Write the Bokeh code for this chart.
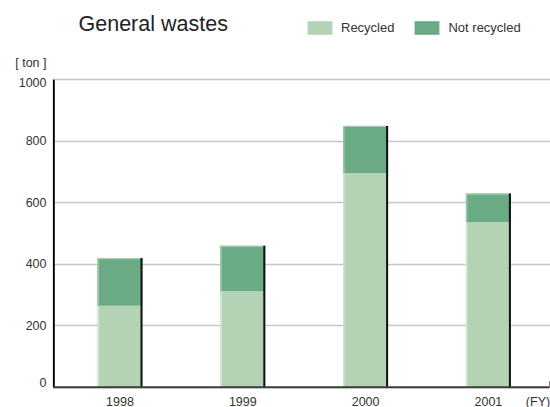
from bokeh.plotting import figure
from bokeh.models import Range1d, FixedTicker, Legend, LegendItem, ColumnDataSource
from bokeh.core.properties import value
from bokeh.embed import file_html
from bokeh.resources import INLINE

# Data
years = ["1998", "1999", "2000", "2001"]
recycled = [265, 312, 697, 537]
not_recycled = [155, 148, 153, 93]
y_ticks = [0, 200, 400, 600, 800, 1000]
y_tick_labels = ["0", "200", "400", "600", "800", "1000"]
unit_label = "[ ton ]"
fy_label = "(FY)"
title_text = "General wastes"

FONT = "Liberation Sans"
W, H = 550, 407
LEFT = 52                      # left border holding the y tick labels
X_PX_PER_UNIT = 122.8          # horizontal pixels per category step
FIRST_CENTER_PX = 119.5        # canvas x of the first category
Y_PX_PER_UNIT = 0.3074         # vertical pixels per ton
ZERO_PX = 386.7                # canvas y of the zero line

def X(px):
    return (px - FIRST_CENTER_PX) / X_PX_PER_UNIT

def Y(py):
    return (ZERO_PX - py) / Y_PX_PER_UNIT

def dx(px):
    return px / X_PX_PER_UNIT

def dy(px):
    return px / Y_PX_PER_UNIT

x_start, x_end = X(LEFT), X(W)
y_start, y_end = Y(H), Y(0)

p = figure(width=W, height=H, output_backend="svg", toolbar_location=None,
           x_range=Range1d(x_start, x_end), y_range=Range1d(y_start, y_end),
           x_axis_location=None, min_border_left=LEFT, min_border_right=0,
           min_border_top=0, min_border_bottom=0, outline_line_color=None,
           background_fill_color="white", border_fill_color="white")
p.xgrid.visible = False

# horizontal grid
p.ygrid.ticker = FixedTicker(ticks=y_ticks)
p.ygrid.grid_line_color = "#c6c6c6"
p.ygrid.grid_line_width = 1.5

# y axis: tick labels only (axis line drawn separately)
label_pos = list(y_ticks)
label_pos[0] = y_ticks[0] + dy(4.4)
label_pos[-1] = y_ticks[-1] - dy(2.7)
unit_pos = round(Y(62))
yax = p.yaxis[0]
yax.ticker = FixedTicker(ticks=label_pos + [unit_pos])
overrides = {pos: lab for pos, lab in zip(label_pos, y_tick_labels)}
overrides[unit_pos] = unit_label
yax.major_label_overrides = overrides
yax.axis_line_color = None
yax.major_tick_line_color = None
yax.minor_tick_line_color = None
yax.major_tick_out = 0
yax.major_tick_in = 0
yax.major_label_standoff = 6
yax.major_label_text_font = FONT
yax.major_label_text_font_size = "12.5px"
yax.major_label_text_color = "#333333"

# bars
n = len(years)
xs = list(range(n))
totals = [r + q for r, q in zip(recycled, not_recycled)]
bw = dx(45)
src = ColumnDataSource(dict(x=xs, rec=recycled, tot=totals,
                            zero=[0] * n, label=years))

light = "#b4d2b4"
dark = "#6aaa84"
r_rec = p.vbar(x="x", width=bw, bottom="zero", top="rec", source=src,
               fill_color=light, line_color=None)
r_not = p.vbar(x="x", width=bw, bottom="rec", top="tot", source=src,
               fill_color=dark, line_color=None)

# bevel edges: light left/top highlights, dark right shadow
left_x = [x - bw / 2 + dx(0.8) for x in xs]
right_x = [x + bw / 2 - dx(1.0) for x in xs]
p.segment(x0=left_x, y0=[0] * n, x1=left_x, y1=recycled,
          line_color="#d4e6d4", line_width=1.6)
p.segment(x0=left_x, y0=recycled, x1=left_x, y1=totals,
          line_color="#99c6a6", line_width=1.6)
p.segment(x0=[x - bw / 2 for x in xs], y0=[t - dy(0.5) for t in totals],
          x1=[x + bw / 2 for x in xs], y1=[t - dy(0.5) for t in totals],
          line_color="#a4cbb0", line_width=1.2)
p.segment(x0=right_x, y0=[0] * n, x1=right_x, y1=totals,
          line_color="#111111", line_width=2)

# axis lines
p.segment(x0=[X(53.3)], y0=[0], x1=[X(53.3)], y1=[y_ticks[-1]],
          line_color="#000000", line_width=2)
p.segment(x0=[X(53)], y0=[0], x1=[X(549)], y1=[0],
          line_color="#3c3c3c", line_width=2)
p.segment(x0=[X(549)], y0=[0], x1=[X(549)], y1=[dy(6)],
          line_color="#777777", line_width=1)

# category labels
p.text(x="x", y=Y(401), text="label", source=src, text_align="center",
       text_baseline="middle", text_font=value(FONT),
       text_font_size="12.5px", text_color="#333333")
p.text(x=[X(537.5)], y=[Y(401)], text=[fy_label], text_align="center",
       text_baseline="middle", text_font=value(FONT),
       text_font_size="12.5px", text_color="#333333")

# title
p.text(x=[X(78)], y=[Y(23)], text=[title_text], text_align="left",
       text_baseline="middle", text_font=value(FONT),
       text_font_size="21.5px", text_color="#222222")

# legend
legend = Legend(items=[LegendItem(label="Recycled", renderers=[r_rec]),
                       LegendItem(label="Not recycled", renderers=[r_not])],
                orientation="horizontal", location=(304 - LEFT, H - 36),
                glyph_width=31, glyph_height=17, label_height=17,
                label_standoff=6, spacing=17, padding=0, margin=0,
                border_line_color=None, background_fill_alpha=0,
                label_text_font=FONT, label_text_font_size="13px",
                label_text_color="#333333")
p.add_layout(legend)

open("out.html", "w").write(file_html(p, INLINE))
